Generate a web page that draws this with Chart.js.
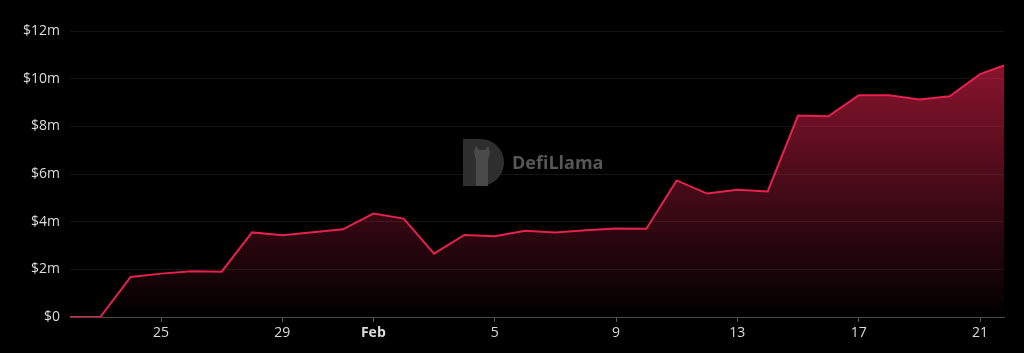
<!DOCTYPE html>
<html>
<head>
<meta charset="utf-8">
<script src="https://cdn.jsdelivr.net/npm/chart.js@4"></script>
<style>
  html, body { margin: 0; padding: 0; background: #000; }
  #wrap { width: 1024px; height: 353px; position: relative; }
</style>
</head>
<body>
<div id="wrap"><canvas id="c" width="1024" height="353"></canvas></div>
<script>
// Days since Jan 22 (last point is a partial day: latest snapshot)
const dayOffsets = [0,1,2,3,4,5,6,7,8,9,10,11,12,13,14,15,16,17,18,19,20,21,22,23,24,25,26,27,28,29,30,30.79];
// Values in $ millions
const valuesM = [0,0,1.68,1.82,1.92,1.90,3.55,3.43,3.56,3.68,4.34,4.13,2.66,3.44,3.39,3.62,3.55,3.64,3.71,3.70,5.73,5.18,5.34,5.27,8.45,8.42,9.30,9.30,9.13,9.26,10.19,10.56];
const tickDays = [3,7,10,14,18,22,26,30];
const tickLabels = ['25','29','Feb','5','9','13','17','21'];
const yTicks = [0,2,4,6,8,10,12];

const lineColor = '#e5224d';

const watermark = {
  id: 'watermark',
  beforeDatasetsDraw(chart) {
    const ctx = chart.ctx;
    ctx.save();
    // D-shaped logo
    const x = 463, y = 139, w = 41, h = 47;
    ctx.fillStyle = '#2e2e2e';
    ctx.beginPath();
    ctx.moveTo(x, y);
    ctx.lineTo(x + w - h/2, y);
    ctx.arc(x + w - h/2, y + h/2, h/2, -Math.PI/2, Math.PI/2);
    ctx.lineTo(x, y + h);
    ctx.closePath();
    ctx.fill();
    // llama silhouette
    ctx.fillStyle = '#4a4a4a';
    ctx.beginPath();
    ctx.moveTo(476, 186);
    ctx.lineTo(476, 160);
    ctx.lineTo(474, 152);
    ctx.lineTo(476, 146);
    ctx.lineTo(479, 150);
    ctx.lineTo(485, 150);
    ctx.lineTo(488, 146);
    ctx.lineTo(490, 152);
    ctx.lineTo(488, 160);
    ctx.lineTo(488, 186);
    ctx.closePath();
    ctx.fill();
    ctx.fillStyle = '#575757';
    ctx.font = 'bold 18px "Open Sans", sans-serif';
    ctx.textBaseline = 'middle';
    ctx.textAlign = 'left';
    ctx.fillText('DefiLlama', 512, 164);
    ctx.restore();
  }
};

const ctx = document.getElementById('c').getContext('2d');
new Chart(ctx, {
  type: 'line',
  data: {
    datasets: [{
      data: dayOffsets.map((d, i) => ({ x: d, y: valuesM[i] })),
      borderColor: lineColor,
      borderWidth: 2,
      pointRadius: 0,
      tension: 0,
      fill: 'origin',
      backgroundColor(context) {
        const area = context.chart.chartArea;
        if (!area) return 'rgba(229,34,77,0.3)';
        const g = context.chart.ctx.createLinearGradient(0, area.top, 0, area.bottom);
        g.addColorStop(0, 'rgba(229,34,77,0.68)');
        g.addColorStop(1, 'rgba(229,34,77,0)');
        return g;
      }
    }]
  },
  options: {
    responsive: false,
    animation: false,
    layout: { padding: { top: 31, right: 20, left: 0, bottom: 0 } },
    plugins: { legend: { display: false }, tooltip: { enabled: false } },
    scales: {
      x: {
        type: 'linear',
        min: 0,
        max: dayOffsets[dayOffsets.length - 1],
        afterBuildTicks(scale) { scale.ticks = tickDays.map(v => ({ value: v })); },
        afterFit(scale) { scale.height = 36; },
        ticks: {
          autoSkip: false,
          maxRotation: 0,
          padding: 3,
          color: '#dcdcdc',
          font(c) {
            const lbl = c.tick && tickLabels[tickDays.indexOf(c.tick.value)];
            return { family: '"Open Sans", sans-serif', size: 14, weight: lbl === 'Feb' ? 'bold' : 'normal' };
          },
          callback(v) { const i = tickDays.indexOf(v); return i >= 0 ? tickLabels[i] : ''; }
        },
        grid: { drawOnChartArea: false, drawTicks: true, tickLength: 5, color: '#5a5a5a' },
        border: { display: true, color: '#4a4a4a', width: 1 }
      },
      y: {
        min: 0,
        max: 12,
        afterBuildTicks(scale) { scale.ticks = yTicks.map(v => ({ value: v })); },
        afterFit(scale) { scale.width = 70; },
        ticks: {
          padding: 10,
          color: '#dcdcdc',
          font: { family: '"Open Sans", sans-serif', size: 14 },
          callback(v) { return '$' + v + (v === 0 ? '' : 'm'); }
        },
        grid: { drawTicks: false, color: 'rgba(255,255,255,0.08)' },
        border: { display: false }
      }
    }
  },
  plugins: [watermark]
});
</script>
</body>
</html>
